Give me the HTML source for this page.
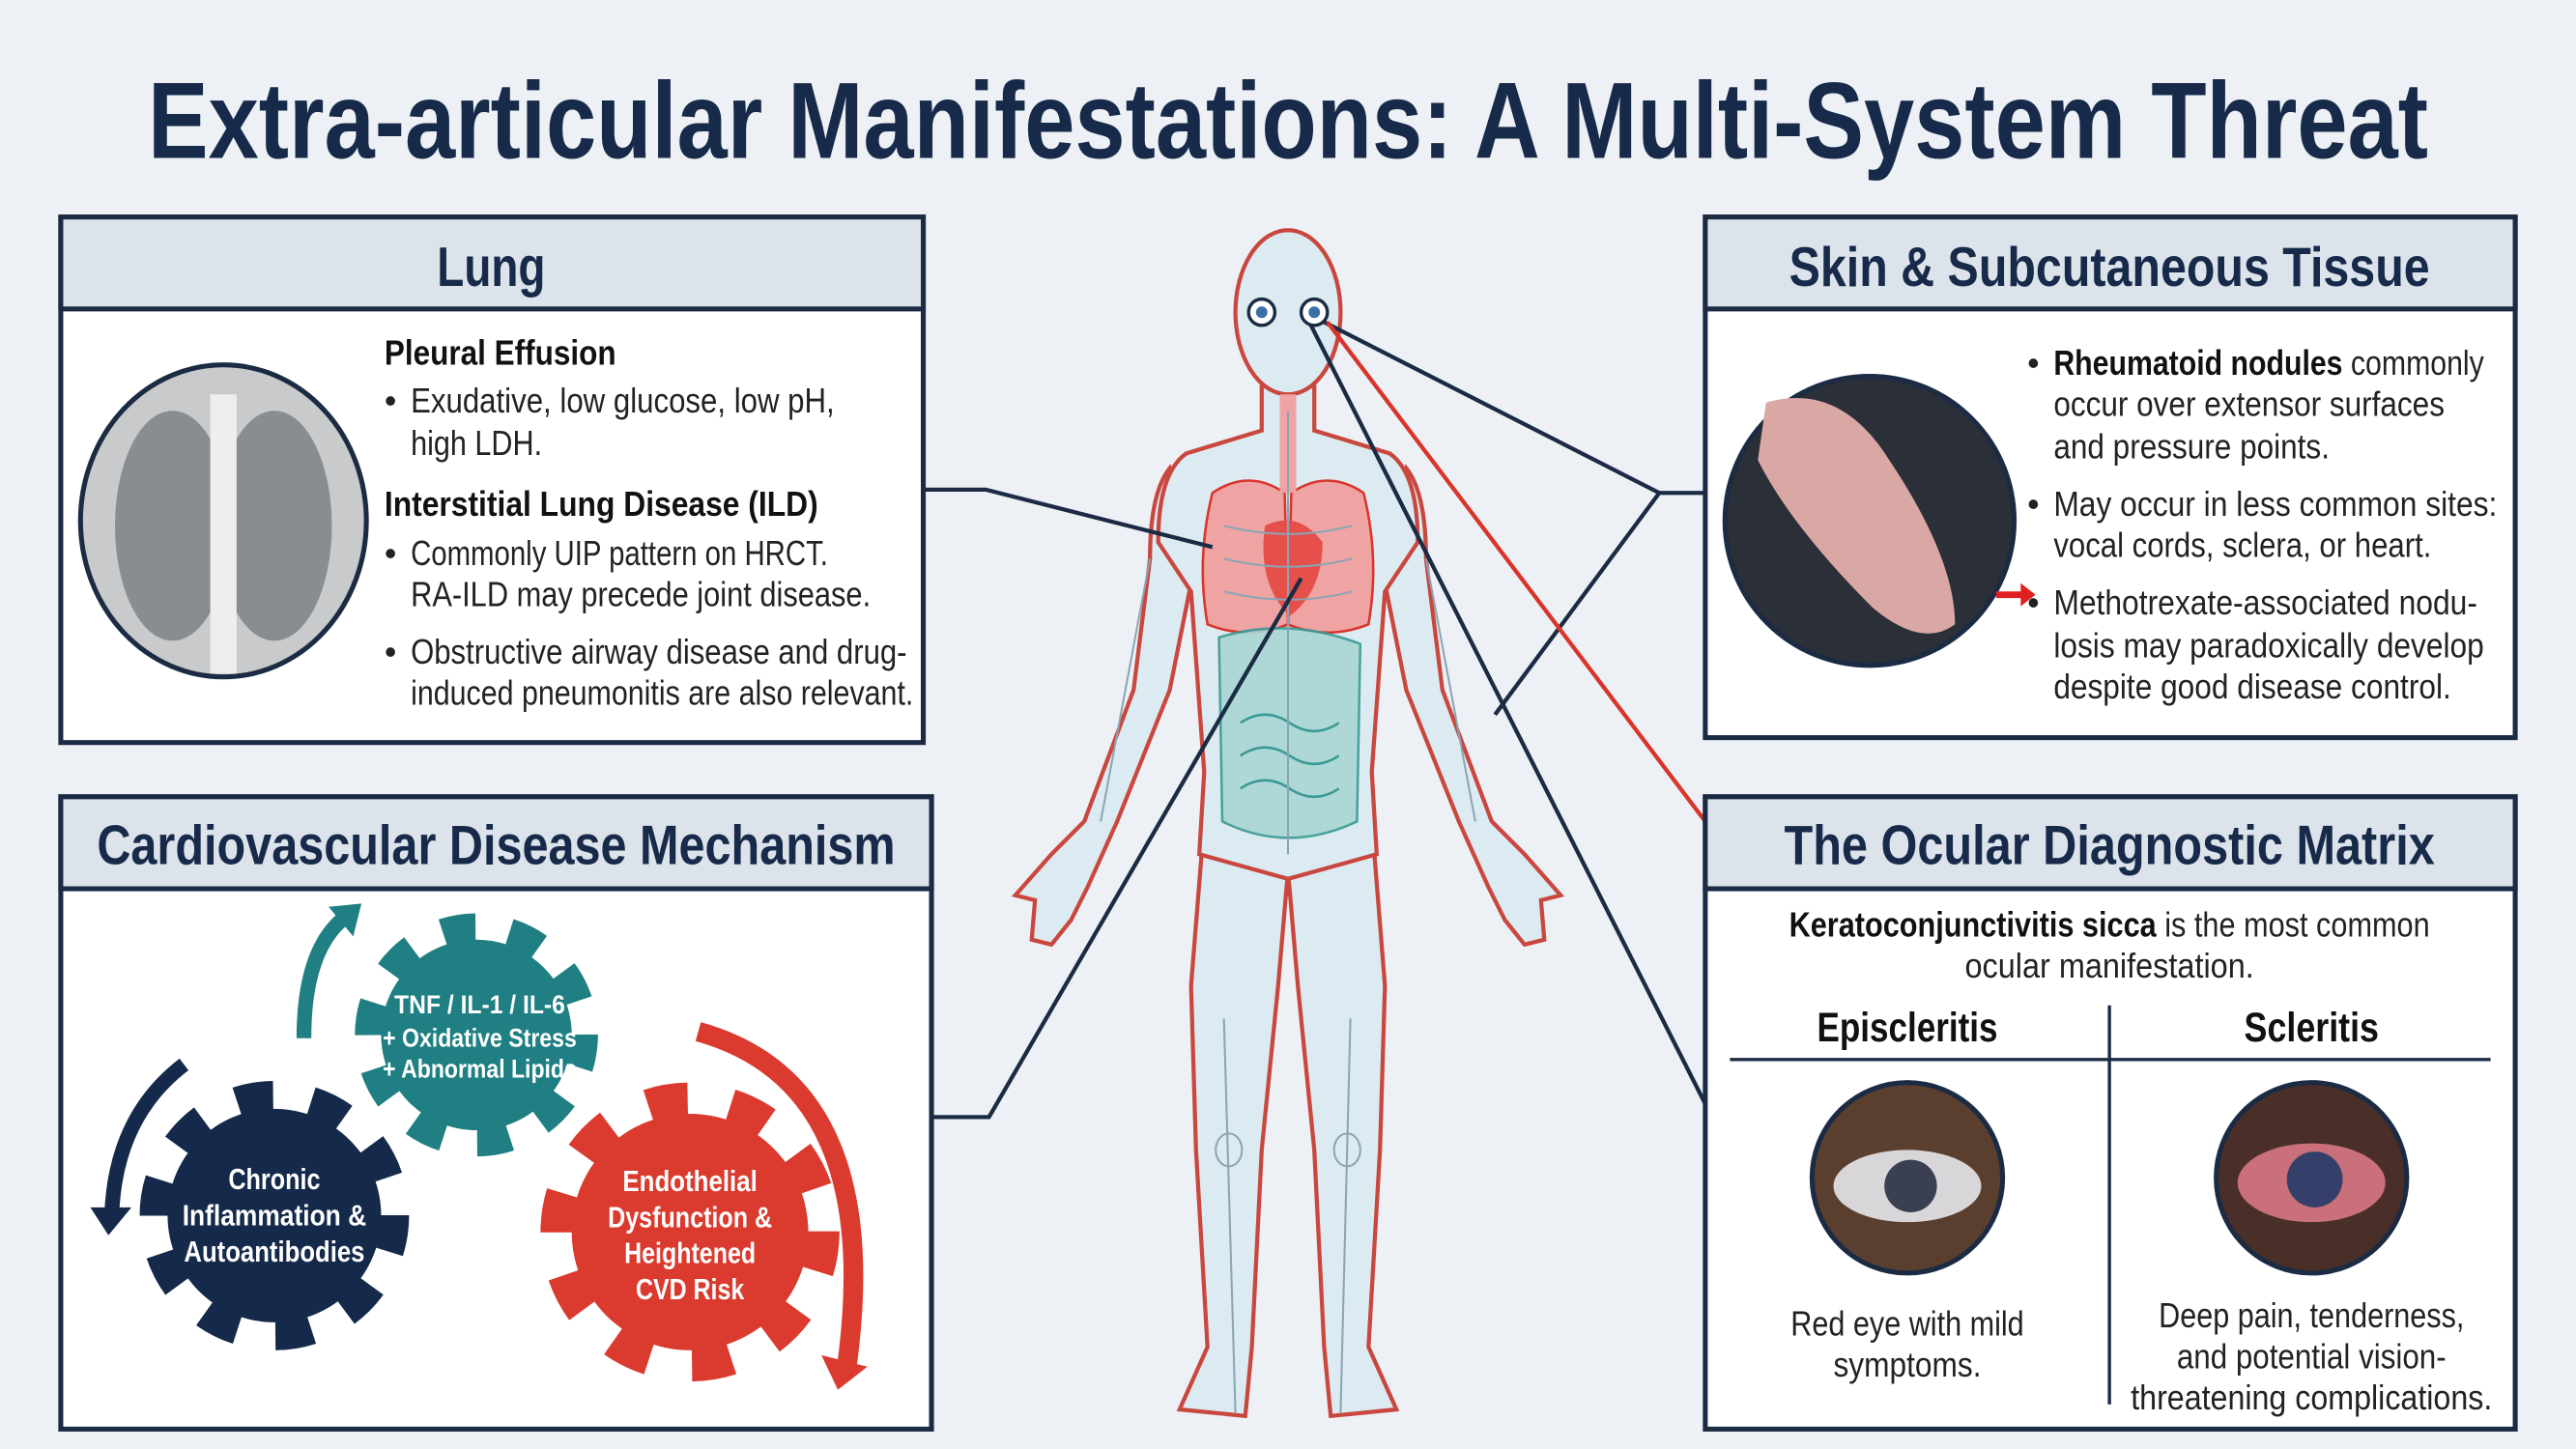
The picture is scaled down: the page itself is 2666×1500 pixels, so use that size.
<!DOCTYPE html>
<html><head><meta charset="utf-8"><style>
html,body{margin:0;padding:0;background:#edf1f5;}
svg{display:block}
text{font-family:"Liberation Sans",sans-serif;}
</style></head><body>
<svg width="2666" height="1500" viewBox="0 0 1568 882" xmlns="http://www.w3.org/2000/svg">
<rect width="1568" height="882" fill="#edf1f5"/>
<text x="784" y="96" text-anchor="middle" font-size="66" font-weight="bold" fill="#172a4a" textLength="1388" lengthAdjust="spacingAndGlyphs">Extra-articular Manifestations: A Multi-System Threat</text>

<!-- body -->
<g stroke="#c9473f" stroke-width="2.5" fill="#dcebf1">
<!-- arms -->
<path d="M712,285 Q700,300 700,340 L690,420 L660,500 L640,520 L618,545 L630,548 L628,572 L640,575 L652,560 L662,540 L680,500 L712,420 L728,340 Z"/>
<path d="M856,285 Q868,300 868,340 L878,420 L908,500 L928,520 L950,545 L938,548 L940,572 L928,575 L916,560 L906,540 L888,500 L856,420 L840,340 Z"/>
<!-- legs -->
<path d="M733,500 L725,600 L728,700 L735,820 L718,858 L758,862 L762,820 L768,700 L778,600 L784,530 Z"/>
<path d="M835,500 L843,600 L840,700 L833,820 L850,858 L810,862 L806,820 L800,700 L790,600 L784,530 Z"/>
<!-- torso -->
<path d="M768,235 L768,262 L722,276 Q705,288 705,330 L725,360 L733,470 L730,520 L784,535 L838,520 L835,470 L843,360 L863,330 Q863,288 846,276 L800,262 L800,235 Z"/>
<ellipse cx="784" cy="190" rx="32" ry="50"/>
</g>
<path d="M738,300 Q760,285 782,300 L784,380 Q760,390 735,380 Q728,340 738,300Z" fill="#f0a3a3" stroke="#d9342b" stroke-width="1.5"/>
<path d="M830,300 Q808,285 786,300 L784,380 Q808,390 833,380 Q840,340 830,300Z" fill="#f0a3a3" stroke="#d9342b" stroke-width="1.5"/>
<path d="M770,320 Q790,310 805,330 Q805,360 785,375 Q765,355 770,320Z" fill="#e5504a"/>
<rect x="779" y="240" width="10" height="60" fill="#f0a3a3"/>
<path d="M742,388 Q784,375 828,392 L826,500 Q784,520 744,500 Z" fill="#a9d6d4" stroke="#3a9a95" stroke-width="1.5" opacity="0.9"/>
<g fill="none" stroke="#3a9a95" stroke-width="1.5">
<path d="M755,440 q15,-10 30,0 t30,0 M755,460 q15,-10 30,0 t30,0 M755,480 q15,-10 30,0 t30,0"/>
</g>
<g fill="none" stroke="#8aa5b5" stroke-width="1.2">
<path d="M784,250 L784,520 M745,320 q40,10 78,0 M745,340 q40,10 78,0 M745,360 q40,10 78,0"/>
<path d="M745,620 L752,860 M822,620 L816,860 M740,700 a8,10 0 1,0 16,0 a8,10 0 1,0 -16,0 M812,700 a8,10 0 1,0 16,0 a8,10 0 1,0 -16,0"/>
<path d="M700,340 L670,500 M868,340 L898,500"/>
</g>
<circle cx="768" cy="190" r="8" fill="#fff" stroke="#1c2b44" stroke-width="2"/><circle cx="768" cy="190" r="3.5" fill="#3a6fa8"/>
<circle cx="800" cy="190" r="8" fill="#fff" stroke="#1c2b44" stroke-width="2"/><circle cx="800" cy="190" r="3.5" fill="#3a6fa8"/>

<!-- connectors -->
<g stroke="#1c2b44" stroke-width="2.5" fill="none">
<polyline points="562,298 600,298 738,333"/>
<polyline points="567,680 602,680 792,352"/>
<polyline points="1038,300 1010,300 806,196"/>
<polyline points="1010,300 910,435"/>
<polyline points="1038,672 798,198"/>
</g>
<line x1="808" y1="196" x2="1038" y2="500" stroke="#d9342b" stroke-width="2.5"/>

<!-- boxes -->
<g stroke="#1c2b44" stroke-width="3">
<rect x="37" y="132" width="525" height="320" fill="#fff"/>
<rect x="37" y="132" width="525" height="56" fill="#dde3ea"/>
<rect x="37" y="485" width="530" height="385" fill="#fff"/>
<rect x="37" y="485" width="530" height="56" fill="#dde3ea"/>
<rect x="1038" y="132" width="493" height="317" fill="#fff"/>
<rect x="1038" y="132" width="493" height="56" fill="#dde3ea"/>
<rect x="1038" y="485" width="493" height="385" fill="#fff"/>
<rect x="1038" y="485" width="493" height="56" fill="#dde3ea"/>
</g>
<g font-weight="bold" fill="#172a4a" font-size="34" text-anchor="middle">
<text x="299" y="174" textLength="66" lengthAdjust="spacingAndGlyphs">Lung</text>
<text x="302" y="526" textLength="486" lengthAdjust="spacingAndGlyphs">Cardiovascular Disease Mechanism</text>
<text x="1284" y="174" textLength="390" lengthAdjust="spacingAndGlyphs">Skin &amp; Subcutaneous Tissue</text>
<text x="1284" y="526" textLength="396" lengthAdjust="spacingAndGlyphs">The Ocular Diagnostic Matrix</text>
</g>

<!-- lung content -->
<ellipse cx="136" cy="317" rx="87" ry="95" fill="#c8cacc" stroke="#1c2b44" stroke-width="3"/>
<ellipse cx="105" cy="320" rx="35" ry="70" fill="#8a8d90"/>
<ellipse cx="167" cy="320" rx="35" ry="70" fill="#8a8d90"/>
<rect x="128" y="240" width="16" height="170" fill="#eee"/>
<g font-size="21" fill="#222">
<text x="234" y="222" font-weight="bold" fill="#111" textLength="141" lengthAdjust="spacingAndGlyphs">Pleural Effusion</text>
<text x="234" y="251">•</text><text x="250" y="251" textLength="258" lengthAdjust="spacingAndGlyphs">Exudative, low glucose, low pH,</text>
<text x="250" y="277" textLength="80" lengthAdjust="spacingAndGlyphs">high LDH.</text>
<text x="234" y="314" font-weight="bold" fill="#111" textLength="264" lengthAdjust="spacingAndGlyphs">Interstitial Lung Disease (ILD)</text>
<text x="234" y="344">•</text><text x="250" y="344" textLength="254" lengthAdjust="spacingAndGlyphs">Commonly UIP pattern on HRCT.</text>
<text x="250" y="369" textLength="280" lengthAdjust="spacingAndGlyphs">RA-ILD may precede joint disease.</text>
<text x="234" y="404">•</text><text x="250" y="404" textLength="302" lengthAdjust="spacingAndGlyphs">Obstructive airway disease and drug-</text>
<text x="250" y="429" textLength="306" lengthAdjust="spacingAndGlyphs">induced pneumonitis are also relevant.</text>
</g>

<!-- skin -->
<circle cx="1138" cy="317" r="88" fill="#2b2f38" stroke="#1c2b44" stroke-width="3"/>
<path d="M1075,245 Q1120,232 1150,280 Q1190,340 1190,380 Q1170,395 1140,370 Q1090,320 1070,280 Z" fill="#d9a7a4"/>
<g font-size="21" fill="#222">
<text x="1234" y="228">•</text><text x="1250" y="228" textLength="262" lengthAdjust="spacingAndGlyphs"><tspan font-weight="bold" fill="#111">Rheumatoid nodules</tspan> commonly</text>
<text x="1250" y="253" textLength="238" lengthAdjust="spacingAndGlyphs">occur over extensor surfaces</text>
<text x="1250" y="279" textLength="168" lengthAdjust="spacingAndGlyphs">and pressure points.</text>
<text x="1234" y="314">•</text><text x="1250" y="314" textLength="270" lengthAdjust="spacingAndGlyphs">May occur in less common sites:</text>
<text x="1250" y="339" textLength="230" lengthAdjust="spacingAndGlyphs">vocal cords, sclera, or heart.</text>
<text x="1234" y="374">•</text><text x="1250" y="374" textLength="258" lengthAdjust="spacingAndGlyphs">Methotrexate-associated nodu-</text>
<text x="1250" y="400" textLength="262" lengthAdjust="spacingAndGlyphs">losis may paradoxically develop</text>
<text x="1250" y="425" textLength="242" lengthAdjust="spacingAndGlyphs">despite good disease control.</text>
</g>
<path d="M1215,360 L1230,360 L1230,355 L1239,362 L1230,369 L1230,364 L1215,364Z" fill="#e02020"/>

<!-- ocular -->
<g font-size="21" fill="#222" text-anchor="middle">
<text x="1284" y="570" textLength="390" lengthAdjust="spacingAndGlyphs"><tspan font-weight="bold" fill="#111">Keratoconjunctivitis sicca</tspan> is the most common</text>
<text x="1284" y="595" textLength="176" lengthAdjust="spacingAndGlyphs">ocular manifestation.</text>
<text x="1161" y="634" font-size="25" font-weight="bold" fill="#111" textLength="110" lengthAdjust="spacingAndGlyphs">Episcleritis</text>
<text x="1407" y="634" font-size="25" font-weight="bold" fill="#111" textLength="82" lengthAdjust="spacingAndGlyphs">Scleritis</text>
<text x="1161" y="813" textLength="142" lengthAdjust="spacingAndGlyphs">Red eye with mild</text>
<text x="1161" y="838" textLength="90" lengthAdjust="spacingAndGlyphs">symptoms.</text>
<text x="1407" y="808" textLength="186" lengthAdjust="spacingAndGlyphs">Deep pain, tenderness,</text>
<text x="1407" y="833" textLength="164" lengthAdjust="spacingAndGlyphs">and potential vision-</text>
<text x="1407" y="858" textLength="220" lengthAdjust="spacingAndGlyphs">threatening complications.</text>
</g>
<line x1="1053" y1="645" x2="1516" y2="645" stroke="#1c2b44" stroke-width="2"/>
<line x1="1284" y1="612" x2="1284" y2="855" stroke="#1c2b44" stroke-width="2"/>
<circle cx="1161" cy="717" r="58" fill="#5a3f2e" stroke="#1c2b44" stroke-width="3"/>
<ellipse cx="1161" cy="722" rx="45" ry="22" fill="#d9d6da"/>
<circle cx="1163" cy="722" r="16" fill="#3b3f52"/>
<circle cx="1407" cy="717" r="58" fill="#4a2f28" stroke="#1c2b44" stroke-width="3"/>
<ellipse cx="1407" cy="720" rx="45" ry="24" fill="#c9707a"/>
<circle cx="1409" cy="718" r="17" fill="#34406a"/>

<!-- gears -->
<g>
<circle cx="167" cy="740" r="65" fill="#15294a"/>
<circle cx="167" cy="740" r="72" fill="none" stroke="#15294a" stroke-width="20" stroke-dasharray="22 23.2"/>
<circle cx="290" cy="630" r="58" fill="#1f7f82"/>
<circle cx="290" cy="630" r="65" fill="none" stroke="#1f7f82" stroke-width="18" stroke-dasharray="20 20.8"/>
<circle cx="420" cy="750" r="72" fill="#db3a2e"/>
<circle cx="420" cy="750" r="80" fill="none" stroke="#db3a2e" stroke-width="22" stroke-dasharray="24 26.2"/>
</g>
<g fill="none" stroke-width="9">
<path d="M185,632 Q185,580 208,560" stroke="#1f7f82"/>
<path d="M112,648 Q70,680 68,740" stroke="#15294a"/>
<path d="M425,628 Q540,660 515,835" stroke="#db3a2e" stroke-width="12"/>
</g>
<path d="M200,552 L220,550 L215,570Z" fill="#1f7f82"/>
<path d="M55,735 L80,735 L66,752Z" fill="#15294a"/>
<path d="M500,825 L528,832 L510,846Z" fill="#db3a2e"/>
<g fill="#fff" font-weight="bold" font-size="16" text-anchor="middle">
<text x="292" y="617" textLength="104" lengthAdjust="spacingAndGlyphs">TNF / IL-1 / IL-6</text>
<text x="292" y="637" textLength="118" lengthAdjust="spacingAndGlyphs">+ Oxidative Stress</text>
<text x="292" y="656" textLength="118" lengthAdjust="spacingAndGlyphs">+ Abnormal Lipids</text>
<text x="167" y="724" font-size="18" textLength="56" lengthAdjust="spacingAndGlyphs">Chronic</text>
<text x="167" y="746" font-size="18" textLength="112" lengthAdjust="spacingAndGlyphs">Inflammation &amp;</text>
<text x="167" y="768" font-size="18" textLength="110" lengthAdjust="spacingAndGlyphs">Autoantibodies</text>
<text x="420" y="725" font-size="18" textLength="82" lengthAdjust="spacingAndGlyphs">Endothelial</text>
<text x="420" y="747" font-size="18" textLength="100" lengthAdjust="spacingAndGlyphs">Dysfunction &amp;</text>
<text x="420" y="769" font-size="18" textLength="80" lengthAdjust="spacingAndGlyphs">Heightened</text>
<text x="420" y="791" font-size="18" textLength="66" lengthAdjust="spacingAndGlyphs">CVD Risk</text>
</g>
</svg>
</body></html>
